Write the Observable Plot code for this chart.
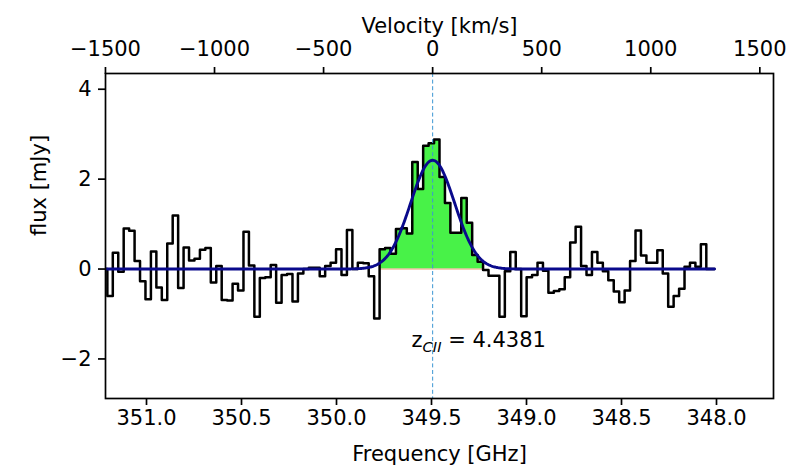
<!DOCTYPE html>
<html>
<head>
<meta charset="utf-8">
<script src="https://cdn.jsdelivr.net/npm/d3@7"></script>
<script src="https://cdn.jsdelivr.net/npm/@observablehq/plot@0.6"></script>
<style>
  html, body { margin: 0; padding: 0; background: #ffffff; }
  #chart { width: 788px; height: 465px; }
</style>
</head>
<body>
<div id="chart"></div>
<script>
// ---- data ----
const chanStartGHz = 351.2347;   // left edge of first channel
const chanWidthGHz = 0.028658;   // channel width
const flux = [
  0.0, -0.6, 0.36, -0.06, 0.9, 0.85, 0.18, -0.27, -0.67, 0.39,
  -0.41, -0.69, 0.57, 1.19, -0.42, 0.48, 0.19, 0.23, 0.43, 0.47,
  -0.3, 0.07, -0.69, -0.7, -0.33, -0.48, 0.83, 0.08, -1.06, -0.2,
  -0.18, 0.09, -0.75, -0.13, -0.11, -0.72, -0.1, 0.0, 0.03, 0.03,
  -0.16, 0.07, 0.14, 0.44, -0.13, 0.87, 0.0, 0.14, 0.13, -0.16,
  -1.1, 0.44, 0.47, 0.34, 0.89, 0.91, 0.79, 2.38, 1.78, 2.74,
  2.8, 2.88, 2.05, 1.47, 0.81, 0.81, 1.58, 1.03, 0.31, 0.16,
  -0.02, -0.15, -0.15, -1.06, -0.05, 0.38, 0.0, -1.05, -0.18, -0.13,
  0.14, -0.04, -0.53, -0.49, -0.45, -0.18, 0.59, 0.94, 0.07, -0.13,
  0.38, 0.14, -0.05, -0.25, -0.5, -0.74, -0.48, 0.18, 0.86, 0.3,
  0.14, 0.14, 0.42, -0.1, -0.84, -0.6, -0.44, 0.05, 0.14, 0.05,
  0.55, 0.0, 0.0
];
const lineFirst = 51;   // first channel of the emission line (filled)
const lineLast = 69;    // last channel of the emission line (filled)
// Gaussian fit parameters
const fitAmp = 2.42;
const fitCenter = 349.494;   // GHz, also velocity zero
const fitSigma = 0.1158;     // GHz
const zValue = "4.4381";
// ticks
const freqTicks = [351.0, 350.5, 350.0, 349.5, 349.0, 348.5, 348.0];
const velTicks = [-1500, -1000, -500, 0, 500, 1000, 1500];
const gHzPerKms = 0.001148;
// axis limits
const xDomain = [351.2158, 347.70];
const yDomain = [-2.88, 4.35];
const yTicks = [-2, 0, 2, 4];

// ---- derived tables ----
const chans = flux.map((v, i) => ({f: chanStartGHz - i * chanWidthGHz, v}));
const endF = chanStartGHz - (flux.length - 0.5) * chanWidthGHz;
const stepPts = chans.concat([{f: endF, v: flux[flux.length - 1]}]);
const fillPts = chans.slice(lineFirst, lineLast + 1)
  .concat([{f: chanStartGHz - (lineLast + 1) * chanWidthGHz, v: flux[lineLast]}]);
const fillStart = fillPts[0].f, fillEnd = fillPts[fillPts.length - 1].f;
const fitPts = d3.range(0, 801).map(j => {
  const f = chanStartGHz + (endF - chanStartGHz) * j / 800;
  return {f, v: fitAmp * Math.exp(-0.5 * ((f - fitCenter) / fitSigma) ** 2)};
});
const velTickFreqs = velTicks.map(v => fitCenter - v * gHzPerKms);
const minus = s => String(s).replace("-", "\u2212");

const FS = 21;

const plot = Plot.plot({
  width: 788,
  height: 465,
  marginLeft: 105,
  marginRight: 15,
  marginTop: 73,
  marginBottom: 67,
  style: {fontFamily: "DejaVu Sans", fontSize: FS + "px", background: "#ffffff", color: "#000000", overflow: "visible"},
  x: {domain: xDomain, label: null},
  y: {domain: yDomain, label: null},
  marks: [
    Plot.areaY(fillPts, {x: "f", y: "v", curve: "step-after", fill: "#48f248"}),
    Plot.ruleY([0], {x1: fillStart, x2: fillEnd, stroke: "#eea27c", strokeWidth: 1}),
    Plot.lineY(stepPts, {x: "f", y: "v", curve: "step-after", stroke: "#000000", strokeWidth: 2.5, clip: true}),
    Plot.ruleX([fitCenter], {stroke: "#3d97d3", strokeWidth: 1, strokeDasharray: "4,2.6"}),
    Plot.lineY(fitPts, {x: "f", y: "v", stroke: "#0a0a8c", strokeWidth: 2.9, clip: true}),
    Plot.frame({stroke: "#000000", strokeWidth: 1.7}),
    Plot.axisX(freqTicks, {anchor: "bottom", tickSize: 7, tickPadding: 5, strokeWidth: 1.7,
      tickFormat: d => d.toFixed(1), fontSize: FS, label: null}),
    Plot.axisX(velTickFreqs, {anchor: "top", tickSize: 7, tickPadding: 11, strokeWidth: 1.7,
      tickFormat: d => minus(Math.round((fitCenter - d) / gHzPerKms / 100) * 100), fontSize: FS, label: null}),
    Plot.axisY(yTicks, {anchor: "left", tickSize: 7, tickPadding: 7, strokeWidth: 1.7,
      tickFormat: d => minus(d), fontSize: FS, label: null}),
    Plot.text(["Frequency [GHz]"], {frameAnchor: "bottom", dy: 62, fontSize: FS}),
    Plot.text(["Velocity [km/s]"], {frameAnchor: "top", dy: -55, fontSize: FS}),
    Plot.text(["flux [mJy]"], {frameAnchor: "left", dx: -66, rotate: -90, fontSize: FS}),
    Plot.text([{f: 349.605, v: -1.74}], {x: "f", y: "v", text: () => "\u00a7zlabel", textAnchor: "start", lineAnchor: "bottom", fontSize: FS})
  ]
});

document.getElementById("chart").appendChild(plot);

// rich text for the redshift annotation (subscript)
const svg = d3.select(plot);
svg.selectAll("text").each(function() {
  if (this.textContent === "\u00a7zlabel") {
    const t = d3.select(this);
    t.text(null);
    t.append("tspan").text("z");
    t.append("tspan").attr("dy", 5).attr("font-size", (FS * 0.7) + "px").attr("font-style", "italic").text("CII");
    t.append("tspan").attr("dy", -5).attr("font-size", FS + "px").text("\u00a0= " + zValue);
  }
});
</script>
</body>
</html>
